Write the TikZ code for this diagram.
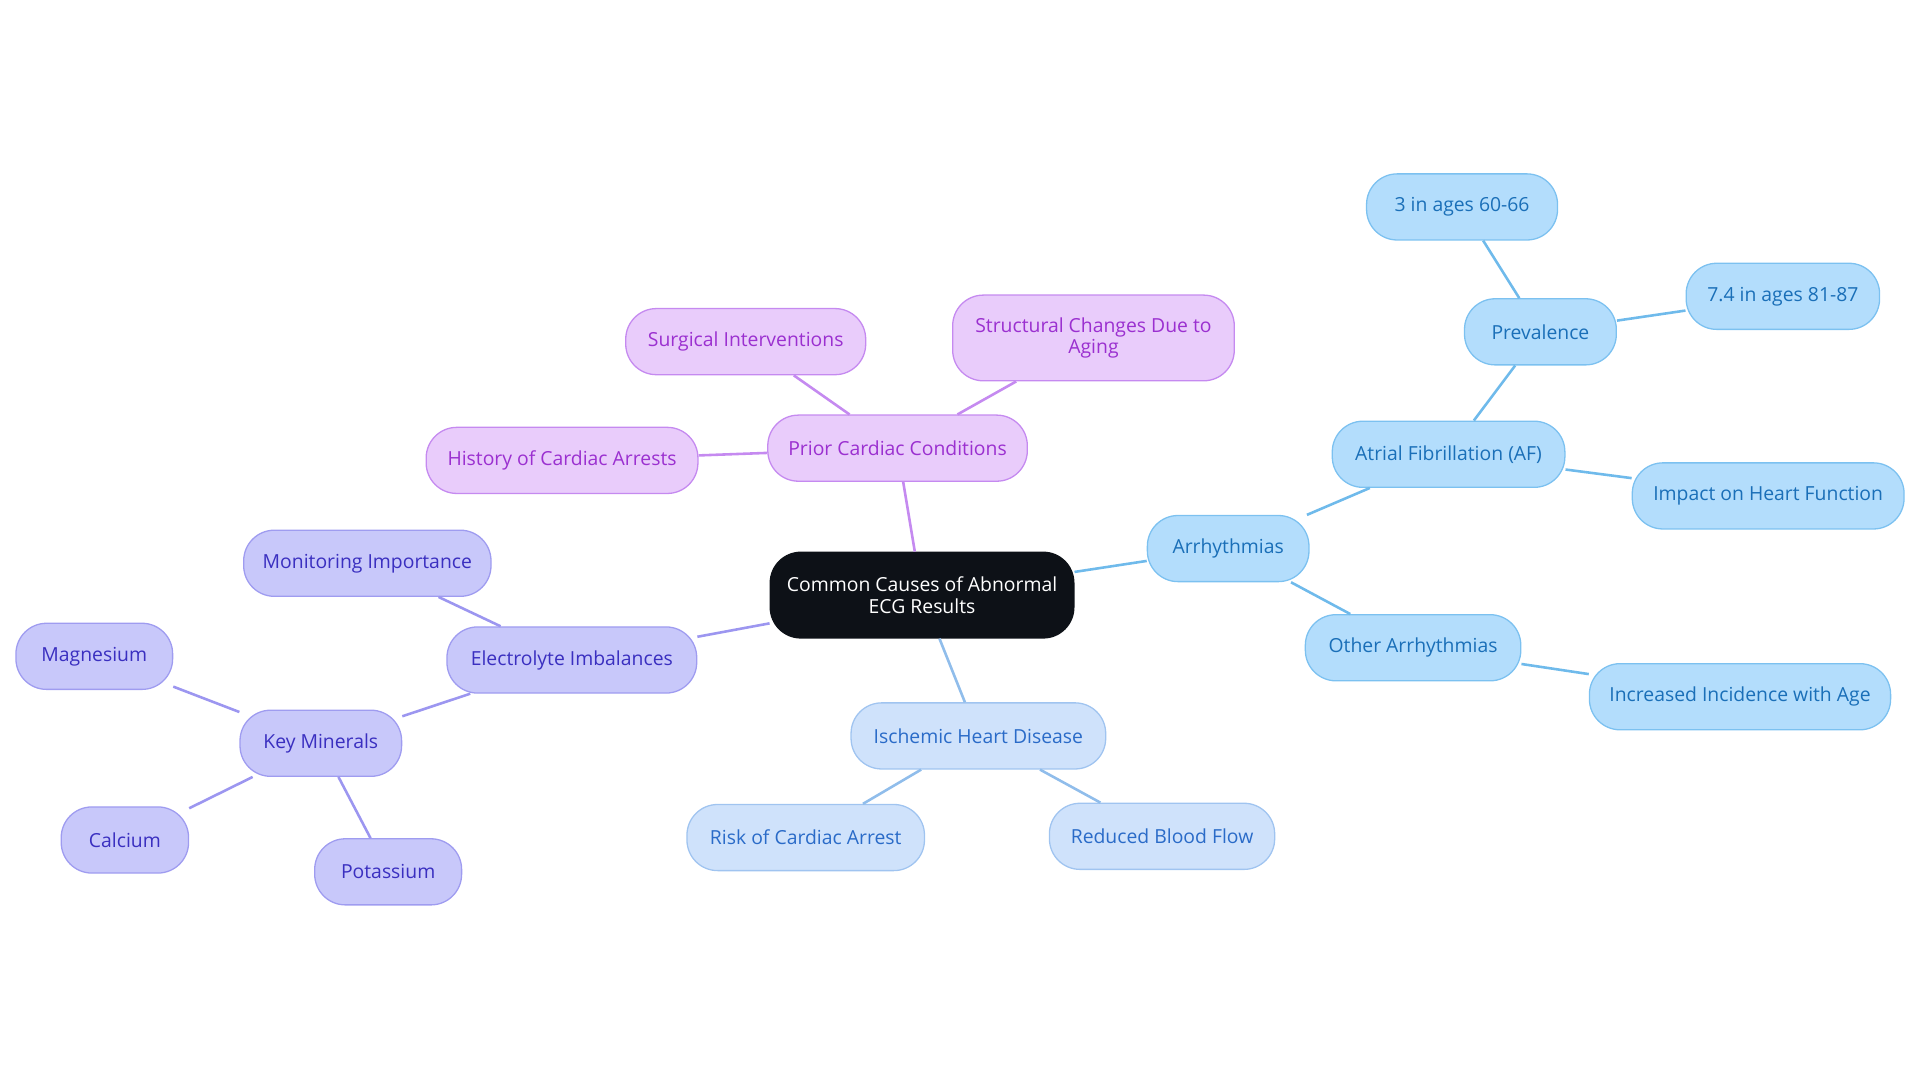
\documentclass[tikz,border=0pt]{standalone}
\usepackage{fontspec}
\setmainfont{Open Sans}
\begin{document}
\begin{tikzpicture}[x=0.02cm,y=-0.02cm,
  base/.style={rounded corners=0.5cm,minimum height=1.08cm,align=center,font=\fontsize{9}{10}\selectfont,line width=0.6pt,inner sep=2pt},
  pur/.style={base,fill=pf,draw=ps,text=pt},
  ind/.style={base,fill=if,draw=is,text=it},
  isc/.style={base,fill=lf,draw=ls,text=lt},
  sky/.style={base,fill=sf,draw=ss,text=st},
  pe/.style={draw=ps,line width=1.2pt},
  ie/.style={draw=ie,line width=1.2pt},
  le/.style={draw=le,line width=1.2pt},
  se/.style={draw=se,line width=1.2pt}]
\definecolor{pf}{HTML}{E9CCFB}\definecolor{ps}{HTML}{C58AF0}\definecolor{pt}{HTML}{9B30D0}
\definecolor{if}{HTML}{C8C8FA}\definecolor{is}{HTML}{9F9CF0}\definecolor{it}{HTML}{3A2FC0}\definecolor{ie}{HTML}{9C96F0}
\definecolor{lf}{HTML}{CFE2FB}\definecolor{ls}{HTML}{A0C4F0}\definecolor{lt}{HTML}{2A6BC8}\definecolor{le}{HTML}{90BDEB}
\definecolor{sf}{HTML}{B3DDFC}\definecolor{ss}{HTML}{7CC1F0}\definecolor{st}{HTML}{1A6FB8}\definecolor{se}{HTML}{6FBAEB}
\definecolor{cf}{HTML}{0D1117}
\useasboundingbox (0,0) rectangle (1568,884);
\node[base,fill=cf,draw=cf,text=white,minimum width=4.96cm,minimum height=1.4cm] (c) at (753,486) {Common Causes of Abnormal\\ECG Results};
\node[pur,minimum width=4.24cm] (prior) at (733,366) {Prior Cardiac Conditions};
\node[pur,minimum width=3.92cm] (surg) at (609,279) {Surgical Interventions};
\node[pur,minimum width=4.6cm,minimum height=1.4cm] (struct) at (893,276) {Structural Changes Due to\\Aging};
\node[pur,minimum width=4.44cm] (hist) at (459,376) {History of Cardiac Arrests};
\node[ind,minimum width=4.08cm] (elec) at (467,539) {Electrolyte Imbalances};
\node[ind,minimum width=4.04cm] (mon) at (300,460) {Monitoring Importance};
\node[ind,minimum width=2.64cm] (key) at (262,607) {Key Minerals};
\node[ind,minimum width=2.56cm] (mag) at (77,536) {Magnesium};
\node[ind,minimum width=2.08cm] (cal) at (102,686) {Calcium};
\node[ind,minimum width=2.4cm] (pot) at (317,712) {Potassium};
\node[isc,minimum width=4.16cm] (isch) at (799,601) {Ischemic Heart Disease};
\node[isc,minimum width=3.88cm] (risk) at (658,684) {Risk of Cardiac Arrest};
\node[isc,minimum width=3.68cm] (red) at (949,683) {Reduced Blood Flow};
\node[sky,minimum width=2.64cm] (arr) at (1003,448) {Arrhythmias};
\node[sky,minimum width=3.8cm] (af) at (1183,371) {Atrial Fibrillation (AF)};
\node[sky,minimum width=2.48cm] (prev) at (1258,271) {Prevalence};
\node[sky,minimum width=3.12cm] (three) at (1194,169) {3 in ages 60-66};
\node[sky,minimum width=3.16cm] (seven) at (1456,242) {7.4 in ages 81-87};
\node[sky,minimum width=4.44cm] (imp) at (1444,405) {Impact on Heart Function};
\node[sky,minimum width=3.52cm] (oth) at (1154,529) {Other Arrhythmias};
\node[sky,minimum width=4.92cm] (inc) at (1421,569) {Increased Incidence with Age};
\begin{scope}[on background layer/.try]
\end{scope}
\draw[pe] (c) -- (prior); \draw[pe] (prior) -- (surg); \draw[pe] (prior) -- (struct); \draw[pe] (prior) -- (hist);
\draw[ie] (c) -- (elec); \draw[ie] (elec) -- (mon); \draw[ie] (elec) -- (key);
\draw[ie] (key) -- (mag); \draw[ie] (key) -- (cal); \draw[ie] (key) -- (pot);
\draw[le] (c) -- (isch); \draw[le] (isch) -- (risk); \draw[le] (isch) -- (red);
\draw[se] (c) -- (arr); \draw[se] (arr) -- (af); \draw[se] (af) -- (prev); \draw[se] (prev) -- (three);
\draw[se] (prev) -- (seven); \draw[se] (af) -- (imp); \draw[se] (arr) -- (oth); \draw[se] (oth) -- (inc);
\end{tikzpicture}
\end{document}
